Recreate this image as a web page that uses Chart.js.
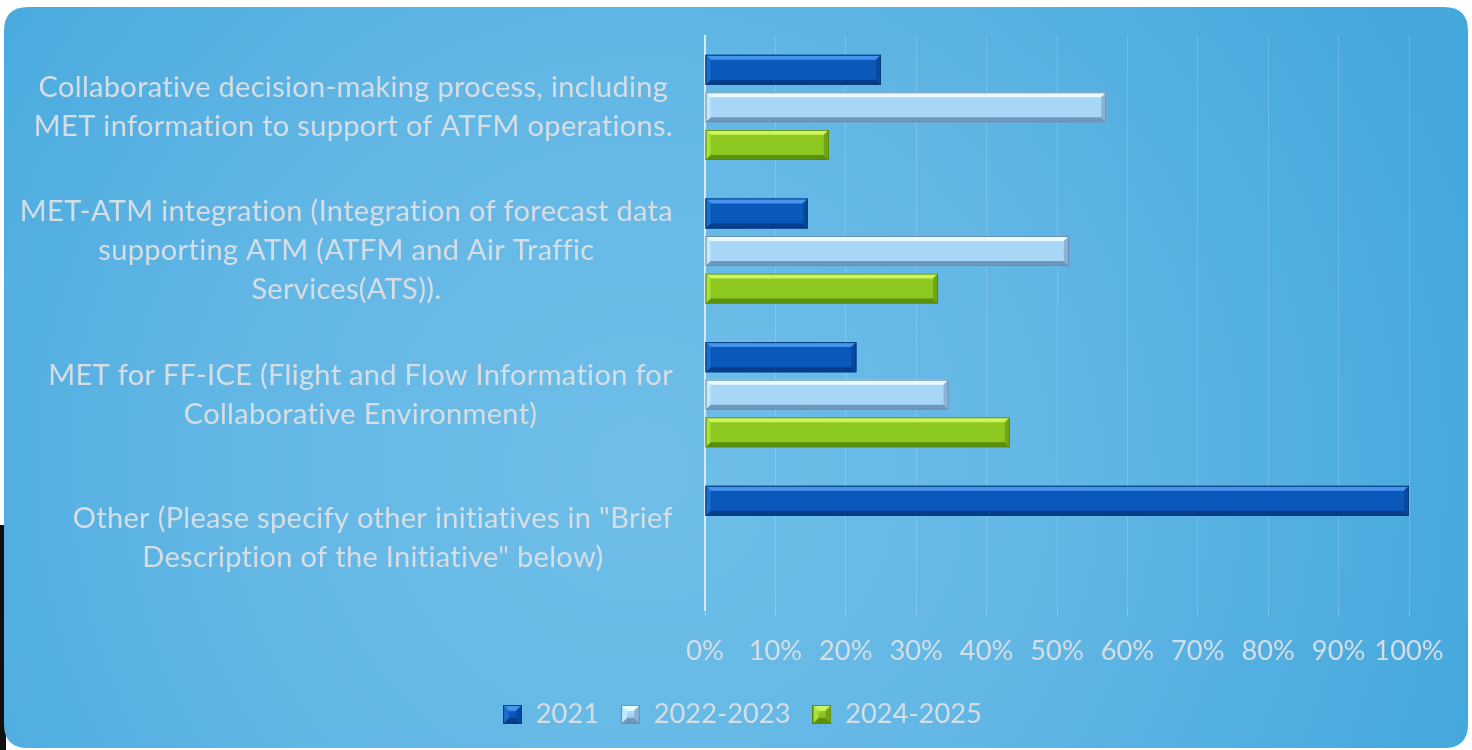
<!DOCTYPE html>
<html><head><meta charset="utf-8">
<script src="https://cdn.jsdelivr.net/npm/chart.js@4.4.1/dist/chart.umd.min.js"></script>
<style>
html,body{margin:0;padding:0;background:#fff;overflow:hidden}
#wrap{position:relative;width:1472px;height:750px}
#edge{position:absolute;left:0;top:525px;width:6px;height:225px;background:#111}
canvas{position:absolute;left:0;top:0}
</style></head>
<body><div id="wrap"><div id="edge"></div><canvas id="c" width="1472" height="750"></canvas></div>
<script>
// ---- data ----
const categories = [
  ["Collaborative decision-making process, including", "MET information to support of ATFM operations."],
  ["MET-ATM integration (Integration of forecast data", "supporting ATM (ATFM and Air Traffic", "Services(ATS))."],
  ["MET for FF-ICE (Flight and Flow Information for", "Collaborative Environment)"],
  ["Other (Please specify other initiatives in \"Brief", "Description of the Initiative\" below)"]
];
const seriesNames = ["2021", "2022-2023", "2024-2025"];
const values2021 = [25, 14.6, 21.5, 100];
const values2022_2023 = [57, 51.7, 34.6, 0];
const values2024_2025 = [17.6, 33.1, 43.3, 0];
const xTickStep = 10;
const xMax = 100;

// ---- styles ----
const FAMILY = 'Lato, "Open Sans", "Noto Sans", sans-serif';
const TEXT = '#d6dee5';
const LSP = '0.3px';
const palettes = [
  {face:['#2070d8','#0a58ba','#0a4ca4'], top:'#4494ee', bottom:'#063e8a', left:'#1d6ccf', right:'#0848a0', border:'#053a7a'},
  {face:['#c8eeff','#a8d6f6','#8dbde4'], top:'#e6fcff', bottom:'#6f98bd', left:'#c2e8fb', right:'#8ab2d6', border:'#6a8db0'},
  {face:['#a8e02c','#8dc820','#7ab119'], top:'#cbf45e', bottom:'#5c8e0f', left:'#a9e03c', right:'#73a51a', border:'#598912'}
];

// fit font size so widest category line matches the reference width
const mc = document.createElement('canvas').getContext('2d');
mc.font = '30px ' + FAMILY;
mc.letterSpacing = LSP;
let widestLine = 0;
categories.forEach(l => l.forEach(s => { widestLine = Math.max(widestLine, mc.measureText(s).width); }));
const FS = 30 * 653 / widestLine;
const FS2 = FS * 0.94;
const LINE_H = 39;

function drawBevel(ctx, x0, x1, yT, yB, pal, b) {
  const w = x1 - x0, h = yB - yT;
  if (w <= 0.5) return;
  b = Math.min(b, w / 2, h / 2);
  const poly = (pts, col) => { ctx.beginPath(); ctx.moveTo(pts[0][0], pts[0][1]); for (let i = 1; i < pts.length; i++) ctx.lineTo(pts[i][0], pts[i][1]); ctx.closePath(); ctx.fillStyle = col; ctx.fill(); };
  poly([[x0,yT],[x1,yT],[x1-b,yT+b],[x0+b,yT+b]], pal.top);
  poly([[x0,yB],[x1,yB],[x1-b,yB-b],[x0+b,yB-b]], pal.bottom);
  poly([[x0,yT],[x0+b,yT+b],[x0+b,yB-b],[x0,yB]], pal.left);
  poly([[x1,yT],[x1-b,yT+b],[x1-b,yB-b],[x1,yB]], pal.right);
  ctx.strokeStyle = pal.border; ctx.lineWidth = 1;
  ctx.strokeRect(x0 + 0.5, yT + 0.5, w - 1, h - 1);
}

function legendIcon(pal) {
  const c = document.createElement('canvas'); c.width = 19; c.height = 19;
  const g = c.getContext('2d');
  const gr = g.createLinearGradient(0, 0, 0, 19);
  gr.addColorStop(0, pal.face[0]); gr.addColorStop(0.5, pal.face[1]); gr.addColorStop(1, pal.face[2]);
  g.fillStyle = gr; g.fillRect(0, 0, 19, 19);
  drawBevel(g, 0, 19, 0, 19, pal, 6);
  return c;
}

function faceGradient(pal) {
  return function(ctx) {
    const el = ctx.element;
    const chart = ctx.chart;
    if (!el || !chart.chartArea) return pal.face[1];
    const y = el.y, h = el.height;
    if (!isFinite(y) || !isFinite(h)) return pal.face[1];
    const g = chart.ctx.createLinearGradient(0, y - h / 2, 0, y + h / 2);
    g.addColorStop(0, pal.face[0]); g.addColorStop(0.5, pal.face[1]); g.addColorStop(1, pal.face[2]);
    return g;
  };
}

const bgPlugin = {
  id: 'bg',
  afterLayout(chart) {
    // centre the legend on the whole panel rather than the padded area
    const lg = chart.legend;
    if (lg) { lg.left += 38; lg.right += 38; }
  },
  beforeDraw(chart) {
    const ctx = chart.ctx;
    ctx.save();
    const x = 4, y = 7, w = 1464, h = 741, r = 24;
    ctx.beginPath();
    ctx.moveTo(x + r, y); ctx.lineTo(x + w - r, y); ctx.quadraticCurveTo(x + w, y, x + w, y + r);
    ctx.lineTo(x + w, y + h - r); ctx.quadraticCurveTo(x + w, y + h, x + w - r, y + h);
    ctx.lineTo(x + r, y + h); ctx.quadraticCurveTo(x, y + h, x, y + h - r);
    ctx.lineTo(x, y + r); ctx.quadraticCurveTo(x, y, x + r, y); ctx.closePath();
    const g = ctx.createRadialGradient(640, 470, 20, 640, 470, 860);
    g.addColorStop(0, '#6ebee8');
    g.addColorStop(0.45, '#63b7e5');
    g.addColorStop(1, '#45a8dd');
    ctx.fillStyle = g; ctx.fill();
    ctx.restore();
  }
};

const bevelPlugin = {
  id: 'bevel',
  afterDatasetsDraw(chart) {
    const ctx = chart.ctx;
    ctx.save();
    chart.data.datasets.forEach((ds, di) => {
      const meta = chart.getDatasetMeta(di);
      meta.data.forEach(el => {
        const x0 = Math.min(el.base, el.x), x1 = Math.max(el.base, el.x);
        drawBevel(ctx, x0, x1, el.y - el.height / 2, el.y + el.height / 2, palettes[di], 5);
      });
    });
    ctx.restore();
  }
};

const yLabelPlugin = {
  id: 'ylabels',
  afterDraw(chart) {
    const ctx = chart.ctx, ys = chart.scales.y;
    ctx.save();
    ctx.font = FS + 'px ' + FAMILY;
    ctx.letterSpacing = LSP;
    ctx.fillStyle = TEXT;
    ctx.textAlign = 'center';
    ctx.textBaseline = 'middle';
    const rightEdge = ys.right - 32;
    categories.forEach((lines, i) => {
      const yc = ys.getPixelForValue(i);
      let wmax = 0; lines.forEach(s => { wmax = Math.max(wmax, ctx.measureText(s).width); });
      const cx = rightEdge - wmax / 2;
      lines.forEach((s, j) => ctx.fillText(s, cx, yc + (j - (lines.length - 1) / 2) * LINE_H));
    });
    ctx.restore();
  }
};

const vals = [values2021, values2022_2023, values2024_2025];
new Chart(document.getElementById('c'), {
  type: 'bar',
  data: {
    labels: categories,
    datasets: seriesNames.map((n, i) => ({
      label: n,
      data: vals[i],
      backgroundColor: faceGradient(palettes[i]),
      borderWidth: 0,
      pointStyle: legendIcon(palettes[i]),
      categoryPercentage: 0.784,
      barPercentage: 0.8
    }))
  },
  options: {
    indexAxis: 'y',
    responsive: false,
    animation: false,
    devicePixelRatio: 1,
    layout: { padding: { top: 35.5, right: 63, bottom: 12, left: 0 } },
    scales: {
      x: {
        min: 0, max: xMax,
        ticks: { stepSize: xTickStep, autoSkip: false, callback: v => v + '%', color: TEXT, font: { family: FAMILY, size: FS2 }, padding: 19, maxRotation: 0 },
        grid: { color: 'rgba(255,255,255,0.16)', lineWidth: 1, drawTicks: true, tickLength: 6, tickColor: 'rgba(255,255,255,0.25)' },
        border: { display: false },
        afterFit(s) { s.height = 68.5; }
      },
      y: {
        ticks: { display: false },
        grid: { display: false },
        border: { display: true, color: 'rgba(232,243,251,0.85)', width: 2 },
        afterFit(s) { s.width = 705; }
      }
    },
    plugins: {
      legend: {
        position: 'bottom',
        labels: { usePointStyle: true, boxWidth: 19, boxHeight: 19, padding: 22, color: TEXT, font: { family: FAMILY, size: FS2 } }
      },
      tooltip: { enabled: false }
    }
  },
  plugins: [bgPlugin, bevelPlugin, yLabelPlugin]
});
</script>
</body></html>
